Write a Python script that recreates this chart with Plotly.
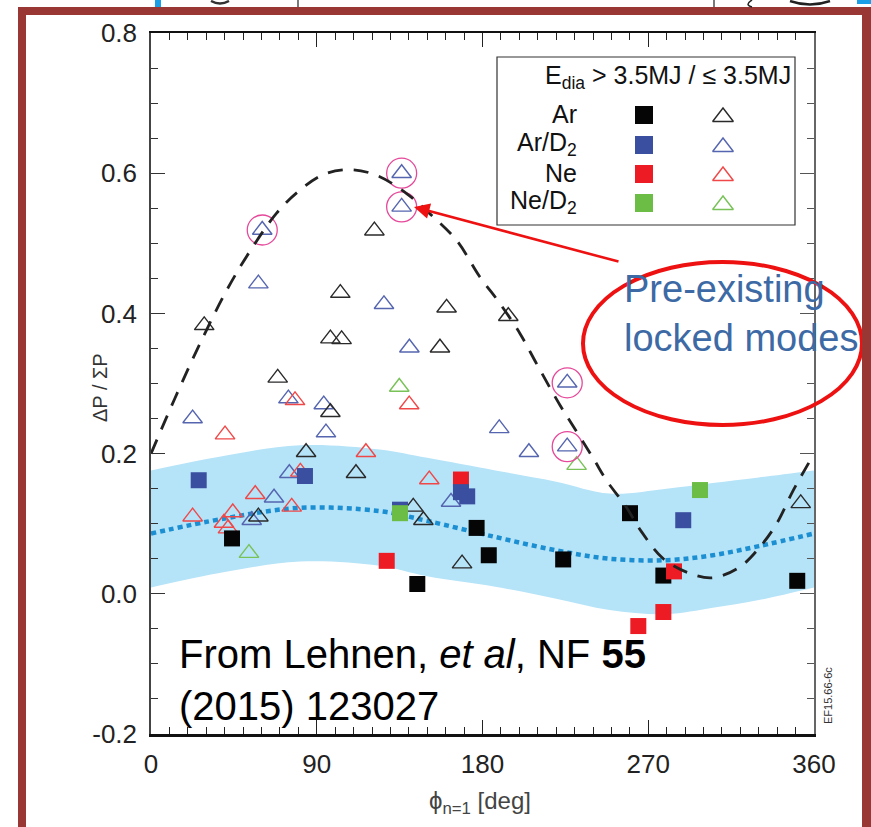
import plotly.graph_objects as go

# ---------------- data ----------------
# E_dia <= 3.5 MJ (open triangles)
ar_low_phi = [28.9, 68.8, 84.2, 97.4, 97.4, 103.5, 102.8, 111.3, 121.3, 142.4, 147.9, 156.9, 160.5, 168.9, 194.0, 352.8, 58.3]
ar_low_val = [0.383, 0.308, 0.202, 0.259, 0.364, 0.363, 0.429, 0.172, 0.518, 0.124, 0.105, 0.351, 0.408, 0.043, 0.396, 0.129, 0.110]

ard2_low_phi = [22.6, 54.7, 58.3, 60.4, 66.8, 74.6, 75.1, 93.8, 95.0, 126.5, 136.1, 136.1, 140.3, 162.9, 189.1, 205.2, 226.0, 226.0]
ard2_low_val = [0.250, 0.105, 0.4425, 0.519, 0.137, 0.2785, 0.172, 0.270, 0.230, 0.413, 0.600, 0.552, 0.351, 0.131, 0.236, 0.202, 0.301, 0.210]

ne_low_phi = [22.6, 39.6, 41.8, 44.4, 40.2, 56.6, 76.4, 78.2, 81.1, 116.7, 140.2, 151.1]
ne_low_val = [0.110, 0.101, 0.093, 0.116, 0.227, 0.142, 0.124, 0.276, 0.174, 0.202, 0.270, 0.163]

ned2_low_phi = [53.2, 134.8, 231.1]
ned2_low_val = [0.058, 0.295, 0.1835]

# E_dia > 3.5 MJ (filled squares)
ar_high_phi = [44.0, 144.6, 176.8, 183.4, 223.8, 260.1, 278.2, 350.9]
ar_high_val = [0.079, 0.014, 0.094, 0.055, 0.049, 0.115, 0.026, 0.0185]

ard2_high_phi = [25.9, 83.6, 135.2, 168.3, 171.7, 289.0]
ard2_high_val = [0.162, 0.168, 0.120, 0.145, 0.139, 0.105]

ne_high_phi = [128.0, 168.3, 264.6, 278.2, 284.0]
ne_high_val = [0.047, 0.163, -0.046, -0.026, 0.032]

ned2_high_phi = [135.2, 298.1]
ned2_high_val = [0.115, 0.148]

# discharges with pre-existing locked modes (circled)
locked_phi = [60.4, 136.1, 136.1, 226.0, 226.0]
locked_val = [0.519, 0.600, 0.552, 0.301, 0.210]

# fit through the low-energy points (dashed)
fit_phi = [0, 13, 26.6, 41.1, 53.8, 68.2, 80, 93.5, 108, 122.5, 138.8, 151.5, 166, 178.6,
           189.5, 200.4, 209.4, 222.1, 231.2, 240.2, 247.5, 257.5, 266.5, 278.2, 292.7,
           305.3, 319.8, 330.7, 339.7, 348.8, 357, 360]
fit_val = [0.200, 0.279, 0.357, 0.433, 0.489, 0.543, 0.574, 0.598, 0.605, 0.597, 0.571, 0.542,
           0.504, 0.452, 0.414, 0.371, 0.328, 0.269, 0.231, 0.193, 0.161, 0.126, 0.088, 0.050,
           0.029, 0.023, 0.0385, 0.067, 0.100, 0.148, 0.186, 0.200]

# fit through the high-energy points (dotted) with its uncertainty band
band_phi = [0, 40, 81, 124, 150, 187, 220, 249, 280, 305, 330, 360]
band_upper = [0.176, 0.197, 0.212, 0.206, 0.194, 0.176, 0.160, 0.143, 0.150, 0.158, 0.166, 0.176]
band_lower = [0.009, 0.031, 0.046, 0.040, 0.025, 0.010, -0.007, -0.023, -0.029, -0.020, -0.009, 0.009]
band_mid = [0.086, 0.1075, 0.1226, 0.118, 0.104, 0.081, 0.062, 0.050, 0.048, 0.055, 0.068, 0.086]

x_ticks = [0, 90, 180, 270, 360]
y_ticks = [-0.2, 0.0, 0.2, 0.4, 0.6, 0.8]
y_tick_text = ["-0.2", "0.0", "0.2", "0.4", "0.6", "0.8"]
species = ["Ar", "Ar/D<sub>2</sub>", "Ne", "Ne/D<sub>2</sub>"]

# ---------------- styling ----------------
FONT = "Liberation Sans, Arial, sans-serif"
W, H = 871, 827
L, R, T, B = 151, 814, 33, 734

SQ_COL = {"ar": "#050505", "ard2": "#3a4f9f", "ne": "#ed1c24", "ned2": "#6cbd45"}
TRI_COL = {"ar": "#2a2a2a", "ard2": "#5565b0", "ne": "#f04848", "ned2": "#78c257"}
SQ_SIZE = 16
TRI_SIZE = 17


def px(xp):
    return (xp - L) / (R - L)


def py(yp):
    return (B - yp) / (B - T)


fig = go.Figure()

# uncertainty band
fig.add_trace(go.Scatter(x=band_phi, y=band_lower, mode="lines", line=dict(width=0, shape="spline"),
                         hoverinfo="skip", showlegend=False))
fig.add_trace(go.Scatter(x=band_phi, y=band_upper, mode="lines", line=dict(width=0, shape="spline"),
                         fill="tonexty", fillcolor="#b5e3f8", hoverinfo="skip", showlegend=False))
fig.add_trace(go.Scatter(x=band_phi, y=band_mid, mode="lines",
                         line=dict(color="#1b8fd2", width=4.5, dash="5px,4px", shape="spline"),
                         showlegend=False))


def tri(xs, ys, col, size=TRI_SIZE, **kw):
    fig.add_trace(go.Scatter(x=xs, y=ys, mode="markers", showlegend=False, **kw,
                             marker=dict(symbol="triangle-up-open", size=size, color=col,
                                         line=dict(width=1.4))))


def sq(xs, ys, col, size=SQ_SIZE, **kw):
    fig.add_trace(go.Scatter(x=xs, y=ys, mode="markers", showlegend=False, **kw,
                             marker=dict(symbol="square", size=size, color=col,
                                         line=dict(width=0))))


tri(ard2_low_phi, ard2_low_val, TRI_COL["ard2"])
tri(ar_low_phi, ar_low_val, TRI_COL["ar"])
tri(ne_low_phi, ne_low_val, TRI_COL["ne"])
tri(ned2_low_phi, ned2_low_val, TRI_COL["ned2"])

fig.add_trace(go.Scatter(x=locked_phi, y=locked_val, mode="markers", showlegend=False,
                         marker=dict(symbol="circle-open", size=30, color="#e6489a",
                                     line=dict(width=1.3))))

sq(ar_high_phi, ar_high_val, SQ_COL["ar"])
sq(ne_high_phi, ne_high_val, SQ_COL["ne"])
sq(ard2_high_phi, ard2_high_val, SQ_COL["ard2"])
sq(ned2_high_phi, ned2_high_val, SQ_COL["ned2"])

fig.add_trace(go.Scatter(x=fit_phi, y=fit_val, mode="lines", showlegend=False,
                         line=dict(color="#222222", width=2.8, dash="15px,11px", shape="spline")))

# key glyphs, drawn on a pixel-scaled overlay axis pair
key_rows_y = [115, 145, 174, 203]
key_sq_x, key_tri_x = 644, 723
for yk, k in zip(key_rows_y, ["ar", "ard2", "ne", "ned2"]):
    sq([key_sq_x], [yk], SQ_COL[k], size=18, xaxis="x2", yaxis="y2")
    tri([key_tri_x], [yk + 2], TRI_COL[k], size=18, xaxis="x2", yaxis="y2")

# empty trace that activates the top/right tick axes
fig.add_trace(go.Scatter(x=[None], y=[None], xaxis="x3", yaxis="y3", showlegend=False, hoverinfo="skip"))

shapes = []
# key box
shapes.append(dict(type="rect", xref="paper", yref="paper", x0=px(497), x1=px(795), y0=py(57), y1=py(225),
                   line=dict(color="#333", width=1.2), fillcolor="rgba(0,0,0,0)", layer="above"))
# callout ellipse
shapes.append(dict(type="circle", xref="paper", yref="paper", x0=px(583), x1=px(862), y0=py(262), y1=py(425),
                   line=dict(color="#ee1111", width=4)))
# slide frame
FR = "#993735"
shapes.append(dict(type="rect", xref="paper", yref="paper", x0=px(18), x1=px(871), y0=py(7), y1=py(15),
                   line=dict(width=0), fillcolor=FR, layer="above"))
shapes.append(dict(type="rect", xref="paper", yref="paper", x0=px(18), x1=px(26), y0=py(7), y1=py(827),
                   line=dict(width=0), fillcolor=FR, layer="above"))
shapes.append(dict(type="rect", xref="paper", yref="paper", x0=px(862), x1=px(871), y0=py(7), y1=py(827),
                   line=dict(width=0), fillcolor=FR, layer="above"))
# bits of the slide content above the frame
shapes.append(dict(type="rect", xref="paper", yref="paper", x0=px(155), x1=px(161), y0=py(0), y1=py(7),
                   line=dict(width=0), fillcolor="#1a9fe6", layer="above"))
shapes.append(dict(type="rect", xref="paper", yref="paper", x0=px(857), x1=px(871), y0=py(0), y1=py(4),
                   line=dict(width=0), fillcolor="#1a9fe6", layer="above"))
for xl in (298, 714):
    shapes.append(dict(type="line", xref="paper", yref="paper", x0=px(xl), x1=px(xl), y0=py(0), y1=py(7),
                       line=dict(color="#222", width=1.2), layer="above"))
shapes.append(dict(type="path", xref="paper", yref="paper", layer="above",
                   path=f"M {px(211)},{py(1)} Q {px(220)},{py(6)} {px(229)},{py(1)}",
                   line=dict(color="#333", width=2.5)))
shapes.append(dict(type="path", xref="paper", yref="paper", layer="above",
                   path=f"M {px(752)},{py(0)} Q {px(744)},{py(5)} {px(752)},{py(7)}",
                   line=dict(color="#222", width=1.5)))
shapes.append(dict(type="path", xref="paper", yref="paper", layer="above",
                   path=f"M {px(790)},{py(1)} Q {px(810)},{py(8)} {px(830)},{py(1)}",
                   line=dict(color="#222", width=2.5)))

annotations = []


def note(xp, yp, text, size, color="#111", xanchor="center", yanchor="middle", angle=0, **kw):
    annotations.append(dict(x=px(xp), y=py(yp), xref="paper", yref="paper", text=text, showarrow=False,
                            xanchor=xanchor, yanchor=yanchor, textangle=angle,
                            font=dict(family=FONT, size=size, color=color), **kw))


note(793, 77, "E<sub>dia</sub> > 3.5MJ / ≤ 3.5MJ", 25, xanchor="right")
for yk, name in zip(key_rows_y, species):
    note(579, yk - 1, name, 25, xanchor="right")

note(622, 314, "Pre-existing<br>locked modes", 38, color="#3d6aa5", xanchor="left", align="left")
note(177, 680, "From Lehnen, <i>et al</i>, NF <b>55</b><br>(2015) 123027", 40, color="#000",
     xanchor="left", align="left")
note(828, 696, "EF15.66-6c", 11, color="#333", angle=-90)
note(100, 388, "ΔP / ΣP", 20, color="#333", angle=-90)
note(480, 802, "ϕ<sub>n=1</sub> [deg]", 24, color="#444")

# arrow pointing at the circled discharges
annotations.append(dict(x=px(414), y=py(207), xref="paper", yref="paper", text="", showarrow=True,
                        ax=620 - 414, ay=262 - 207, axref="pixel", ayref="pixel",
                        arrowhead=2, arrowsize=1.2, arrowwidth=2.6, arrowcolor="#ee1111", standoff=0))

tick_common = dict(ticks="inside", ticklen=14, tickwidth=1.3, showgrid=False, zeroline=False)

fig.update_layout(
    width=W, height=H,
    margin=dict(l=L, r=W - R, t=T, b=H - B, pad=0),
    paper_bgcolor="white", plot_bgcolor="white",
    font=dict(family=FONT, color="#222"),
    showlegend=False,
    shapes=shapes, annotations=annotations,
    xaxis=dict(range=[0, 360], tickvals=x_ticks, tickcolor="#222", showline=True, linewidth=2.8,
               linecolor="#111", tickfont=dict(size=26, color="#222"), ticklabelstandoff=5,
               minor=dict(dtick=10, ticklen=7, ticks="inside", tickcolor="#222", tickwidth=1.1),
               **tick_common),
    yaxis=dict(range=[-0.2, 0.8], tickvals=y_ticks, ticktext=y_tick_text, tickcolor="#333",
               showline=True, linewidth=1.5, linecolor="#444", tickfont=dict(size=26, color="#222"),
               ticklabelstandoff=7,
               minor=dict(dtick=0.05, ticklen=7, ticks="inside", tickcolor="#333", tickwidth=1.1),
               **tick_common),
    xaxis2=dict(overlaying="x", range=[L, R], visible=False, fixedrange=True),
    yaxis2=dict(overlaying="y", range=[B, T], visible=False, fixedrange=True),
    xaxis3=dict(overlaying="x", side="top", range=[0, 360], tickvals=x_ticks, showticklabels=False,
                tickcolor="#222", showline=True, linewidth=2, linecolor="#111",
                minor=dict(dtick=10, ticklen=7, ticks="inside", tickcolor="#222", tickwidth=1.1),
                **tick_common),
    yaxis3=dict(overlaying="y", side="right", range=[-0.2, 0.8], tickvals=y_ticks, showticklabels=False,
                tickcolor="#555", showline=True, linewidth=1.5, linecolor="#666",
                minor=dict(dtick=0.05, ticklen=7, ticks="inside", tickcolor="#555", tickwidth=1.1),
                **tick_common),
)

fig.write_html("out.html")
